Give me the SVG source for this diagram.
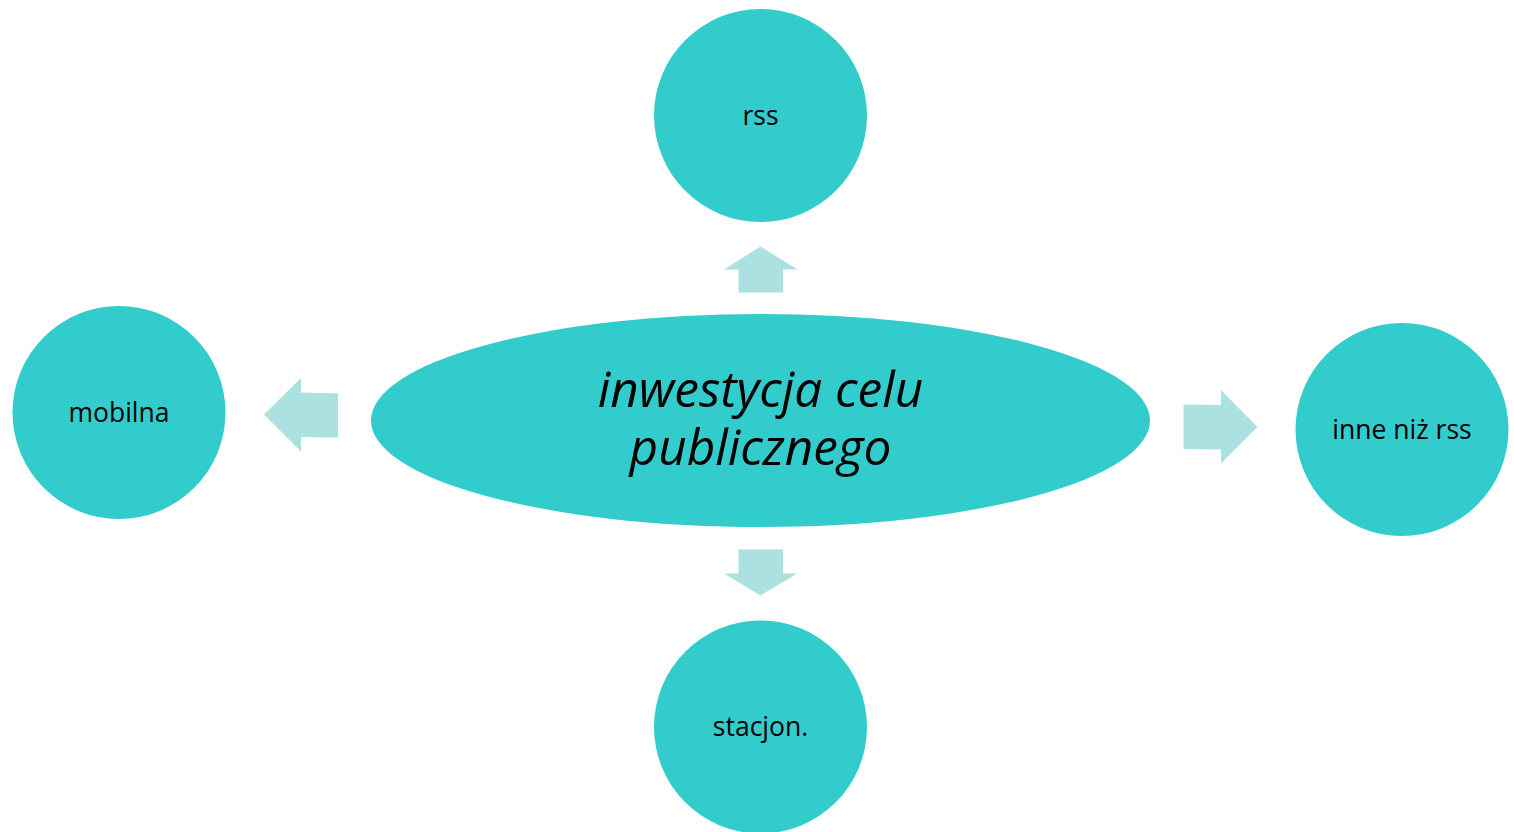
<svg xmlns="http://www.w3.org/2000/svg" width="1514" height="832" viewBox="0 0 1514 832">
<style>
.node{fill:#33CCCC;}
.arrow{fill:#ACE1E1;}
.lbl{font-family:"Open Sans","Liberation Sans",sans-serif;font-size:26.5px;fill:#000;text-anchor:middle;}
.main{font-family:"Open Sans","Liberation Sans",sans-serif;font-size:49.5px;font-style:italic;fill:#000;text-anchor:middle;}
</style>
<rect width="1514" height="832" fill="#fff"/>
<g id="connectors">
<polygon class="arrow" points="760.5,246.5 797.5,269.5 783,269.5 783,292.5 738.5,292.5 738.5,269.5 724,269.5"/>
<polygon class="arrow" points="738.5,549.5 783,549.5 783,573.5 797.5,573.5 760.5,595.5 724,573.5 738.5,573.5"/>
<polygon class="arrow" points="264,414.5 301,378 301,392.5 338,393.5 338,437.5 301,437 301,451.5"/>
<polygon class="arrow" points="1183.5,404.5 1221,405 1221,390 1257.5,427 1221,463.5 1221,449.5 1183.5,449"/>
</g>
<g id="center">
<ellipse class="node" cx="760.5" cy="420.5" rx="389.5" ry="106.5"/>
<text class="main"><tspan x="760.5" y="407">inwestycja celu</tspan><tspan x="760.5" y="465">publicznego</tspan></text>
</g>
<g id="rss">
<circle class="node" cx="760.5" cy="115.5" r="106.5"/>
<text class="lbl" x="760.5" y="124.5">rss</text>
</g>
<g id="mobilna">
<circle class="node" cx="119" cy="412.5" r="106.5"/>
<text class="lbl" x="119" y="421.5">mobilna</text>
</g>
<g id="inne">
<circle class="node" cx="1402" cy="429.5" r="106.5"/>
<text class="lbl" x="1402" y="438.5">inne niż rss</text>
</g>
<g id="stacjon">
<circle class="node" cx="760.5" cy="727" r="106.5"/>
<text class="lbl" x="760.5" y="736">stacjon.</text>
</g>
</svg>
